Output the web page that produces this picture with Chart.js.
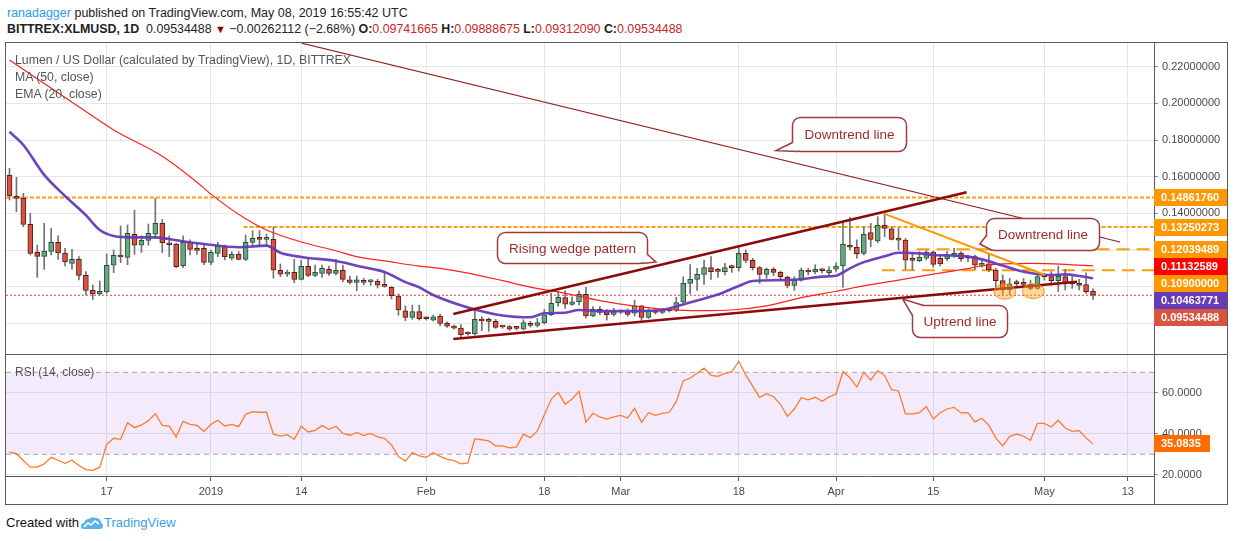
<!DOCTYPE html>
<html>
<head>
<meta charset="utf-8">
<script src="https://cdn.jsdelivr.net/npm/chart.js@4.4.1/dist/chart.umd.min.js"></script>
<style>
  body { margin:0; background:#fff; width:1234px; height:541px; overflow:hidden;
         font-family:"Liberation Sans", Arial, sans-serif; color:#222; }
  .abs { position:absolute; white-space:nowrap; }
  #h1 { left:7px; top:5px; font-size:12.5px; line-height:16px; }
  #h2 { left:7px; top:21px; font-size:12.4px; line-height:16px; }
  #h1 .user { color:#2d9be6; }
  #h2 .r { color:#c62828; }
  #h2 .dn { color:#8b0000; font-size:11px; }
  #frame { left:5px; top:42px; width:1221px; height:461px; border:1px solid #5a5a5a; }
  #sep { left:6px; top:354px; width:1221px; height:1px; background:#5a5a5a; }
  #axisv { left:1154px; top:476px; width:1px; height:28px; background:#5a5a5a; }
  #main { position:absolute; left:6px; top:43px; }
  #rsi { position:absolute; left:6px; top:355px; }
  #legend { left:15px; top:52px; font-size:12.3px; line-height:17px; color:#555; z-index:2; }
  #rsiLegend { left:15px; top:364px; font-size:12px; line-height:16px; color:#555; z-index:2; }
  #foot { left:6px; top:515px; font-size:13px; line-height:16px; color:#111; }
  #foot .tv { color:#3ca0e6; }
  #foot svg { vertical-align:-3px; margin:0 1px 0 2px; }
</style>
</head>
<body>
<div id="h1" class="abs"><span class="user">ranadagger</span> published on TradingView.com, May 08, 2019 16:55:42 UTC</div>
<div id="h2" class="abs"></div>
<div id="frame" class="abs"></div>
<canvas id="main" width="1221" height="311"></canvas>
<div id="sep" class="abs"></div>
<canvas id="rsi" width="1221" height="149"></canvas>
<div id="axisv" class="abs"></div>
<div id="legend" class="abs">Lumen / US Dollar (calculated by TradingView), 1D, BITTREX<br>MA (50, close)<br>EMA (20, close)</div>
<div id="rsiLegend" class="abs">RSI (14, close)</div>
<div id="foot" class="abs">Created with<svg width="22" height="14" viewBox="0 0 22 14"><path d="M2 13 Q0 13 0 10 Q0 7 3 7 Q4 3 8 3 Q11 0 15 2 Q19 2 20 6 Q22 8 22 10 Q22 13 19 13 Z" fill="#56b4e9"/><polyline points="3,11 7,7 10,9 14,5 18,8" fill="none" stroke="#fff" stroke-width="1.6"/></svg><span class="tv">TradingView</span></div>

<script>
// day 0 = 17 Dec 2018, first candle = 3 Dec 2018
const START_DAY = -14;

const opens = [
  0.1607,0.1493,0.1482,0.1340,0.1187,0.1165,0.1193,0.1242,0.1184,0.1127,
  0.1149,0.1062,0.0980,0.0960,0.0971,0.1117,0.1173,0.1160,0.1286,0.1226,
  0.1253,0.1286,0.1346,0.1237,0.1231,0.1115,0.1242,0.1206,0.1209,0.1133,
  0.1182,0.1220,0.1155,0.1176,0.1149,0.1242,0.1264,0.1258,0.1258,0.1089,
  0.1069,0.1078,0.1040,0.1111,0.1062,0.1073,0.1095,0.1073,0.1089,0.1038,
  0.1024,0.1033,0.1026,0.1029,0.1009,0.0997,0.0949,0.0869,0.0833,0.0864,
  0.0829,0.0818,0.0840,0.0800,0.0785,0.0774,0.0745,0.0742,0.0822,0.0818,
  0.0811,0.0782,0.0782,0.0774,0.0769,0.0800,0.0789,0.0804,0.0847,0.0913,
  0.0940,0.0904,0.0918,0.0958,0.0840,0.0876,0.0864,0.0849,0.0864,0.0864,
  0.0855,0.0895,0.0833,0.0869,0.0860,0.0869,0.0873,0.0916,0.1018,0.1040,
  0.1067,0.1104,0.1085,0.1082,0.1105,0.1104,0.1182,0.1144,0.1104,0.1067,
  0.1095,0.1078,0.1051,0.1007,0.1036,0.1091,0.1080,0.1088,0.1076,0.1095,
  0.1113,0.1225,0.1215,0.1182,0.1295,0.1250,0.1335,0.1315,0.1256,0.1254,
  0.1155,0.1142,0.1155,0.1189,0.1155,0.1153,0.1171,0.1182,0.1156,0.1164,
  0.1116,0.1125,0.1091,0.1033,0.0982,0.1018,0.1020,0.1013,0.0991,0.1056,
  0.1055,0.1033,0.1055,0.1027,0.1018,0.1011,0.09741665
];
const highs = [
  0.1646,0.1597,0.1509,0.1400,0.1227,0.1346,0.1318,0.1277,0.1209,0.1204,
  0.1164,0.1082,0.1009,0.1031,0.1178,0.1200,0.1331,0.1337,0.1418,0.1277,
  0.1342,0.1482,0.1367,0.1277,0.1237,0.1277,0.1255,0.1231,0.1227,0.1200,
  0.1242,0.1227,0.1191,0.1191,0.1282,0.1306,0.1306,0.1287,0.1327,0.1124,
  0.1091,0.1149,0.1145,0.1149,0.1118,0.1118,0.1113,0.1149,0.1118,0.1058,
  0.1058,0.1046,0.1040,0.1040,0.1076,0.1000,0.0960,0.0895,0.0900,0.0900,
  0.0836,0.0845,0.0851,0.0809,0.0791,0.0794,0.0754,0.0882,0.0836,0.0829,
  0.0822,0.0787,0.0789,0.0782,0.0820,0.0811,0.0827,0.0876,0.0964,0.0975,
  0.0978,0.0945,0.0976,0.0996,0.0891,0.0891,0.0876,0.0882,0.0873,0.0878,
  0.0927,0.0898,0.0880,0.0878,0.0882,0.0880,0.0942,0.1054,0.1120,0.1100,
  0.1145,0.1164,0.1100,0.1127,0.1118,0.1218,0.1200,0.1155,0.1110,0.1102,
  0.1104,0.1085,0.1058,0.1055,0.1102,0.1100,0.1120,0.1100,0.1110,0.1130,
  0.1355,0.1378,0.1255,0.1327,0.1345,0.1382,0.1400,0.1327,0.1318,0.1264,
  0.1178,0.1191,0.1200,0.1195,0.1167,0.1191,0.1209,0.1191,0.1173,0.1173,
  0.1145,0.1178,0.1100,0.1064,0.1045,0.1036,0.1045,0.1036,0.1064,0.1073,
  0.1082,0.1113,0.1095,0.1055,0.1040,0.1076,0.09888675
];
const lows = [
  0.1473,0.1409,0.1327,0.1173,0.1051,0.1095,0.1173,0.1149,0.1113,0.1095,
  0.1037,0.0955,0.0931,0.0955,0.0964,0.1077,0.1131,0.1120,0.1176,0.1187,
  0.1226,0.1264,0.1186,0.1164,0.1104,0.1104,0.1173,0.1176,0.1120,0.1120,
  0.1164,0.1146,0.1146,0.1146,0.1142,0.1215,0.1218,0.1218,0.1046,0.1055,
  0.1055,0.1022,0.1037,0.1055,0.1055,0.1051,0.1062,0.1064,0.1027,0.1015,
  0.0978,0.1009,0.1007,0.0993,0.0997,0.0933,0.0844,0.0815,0.0822,0.0818,
  0.0818,0.0814,0.0787,0.0778,0.0769,0.0724,0.0736,0.0736,0.0760,0.0756,
  0.0773,0.0773,0.0762,0.0764,0.0764,0.0780,0.0780,0.0796,0.0842,0.0893,
  0.0882,0.0898,0.0900,0.0829,0.0836,0.0847,0.0818,0.0840,0.0853,0.0838,
  0.0840,0.0816,0.0827,0.0851,0.0853,0.0862,0.0864,0.0909,0.0960,0.0980,
  0.1013,0.1040,0.1050,0.1064,0.1078,0.1085,0.1130,0.1090,0.1018,0.1045,
  0.1060,0.1040,0.0993,0.0980,0.1030,0.1064,0.1070,0.1075,0.1060,0.1080,
  0.0996,0.1200,0.1155,0.1173,0.1218,0.1240,0.1273,0.1255,0.1200,0.1095,
  0.1091,0.1136,0.1145,0.1106,0.1113,0.1142,0.1160,0.1138,0.1136,0.1091,
  0.1106,0.1082,0.0982,0.0955,0.0955,0.1000,0.1000,0.0982,0.0985,0.1036,
  0.1009,0.0973,0.0982,0.0991,0.0982,0.0964,0.0931209
];
const closes = [
  0.1495,0.1482,0.1340,0.1182,0.1165,0.1193,0.1242,0.1184,0.1135,0.1149,
  0.1062,0.0980,0.0960,0.0975,0.1117,0.1171,0.1162,0.1291,0.1226,0.1253,
  0.1291,0.1346,0.1240,0.1229,0.1109,0.1242,0.1204,0.1198,0.1133,0.1187,
  0.1222,0.1162,0.1176,0.1149,0.1242,0.1264,0.1258,0.1260,0.1091,0.1069,
  0.1078,0.1040,0.1111,0.1062,0.1078,0.1100,0.1073,0.1089,0.1040,0.1024,
  0.1038,0.1024,0.1028,0.1009,0.1002,0.0951,0.0873,0.0833,0.0864,0.0826,
  0.0825,0.0836,0.0800,0.0785,0.0774,0.0738,0.0742,0.0822,0.0813,0.0811,
  0.0778,0.0780,0.0769,0.0773,0.0804,0.0789,0.0804,0.0847,0.0909,0.0942,
  0.0905,0.0918,0.0958,0.0840,0.0876,0.0860,0.0847,0.0864,0.0862,0.0849,
  0.0895,0.0833,0.0869,0.0860,0.0873,0.0873,0.0913,0.1018,0.1040,0.1067,
  0.1104,0.1082,0.1084,0.1104,0.1104,0.1182,0.1144,0.1104,0.1067,0.1095,
  0.1078,0.1055,0.1007,0.1036,0.1091,0.1080,0.1095,0.1087,0.1091,0.1113,
  0.1231,0.1215,0.1180,0.1285,0.1258,0.1335,0.1318,0.1258,0.1254,0.1145,
  0.1144,0.1162,0.1189,0.1122,0.1124,0.1169,0.1180,0.1153,0.1155,0.1118,
  0.1125,0.1091,0.1033,0.0982,0.1016,0.1017,0.1013,0.0991,0.1055,0.1055,
  0.1033,0.1056,0.1024,0.1015,0.1007,0.0973,0.09534488
];
const rsiValues = [
  31.0,30.3,27.0,23.7,23.7,25.3,28.5,27.1,25.6,27.1,
  24.5,22.5,22.2,23.7,34.9,37.8,37.3,45.4,43.0,44.3,
  46.4,49.8,44.1,43.7,38.5,46.1,44.6,44.1,41.2,44.6,
  46.6,43.8,44.6,43.5,49.5,50.8,50.5,50.5,39.8,38.9,
  39.6,37.3,43.7,40.9,41.7,44.0,42.2,43.7,40.2,39.3,
  40.7,39.1,40.2,38.5,37.8,34.6,28.9,26.7,30.8,29.2,
  28.5,30.8,29.0,27.6,26.9,25.3,25.8,37.6,37.1,36.5,
  34.1,34.1,33.1,33.6,39.8,38.1,41.4,49.2,56.8,60.2,
  54.4,57.0,60.7,45.6,50.0,48.2,47.2,48.2,49.0,47.7,
  52.4,45.6,50.3,49.0,50.0,50.5,55.7,65.8,67.2,69.5,
  72.0,68.5,68.0,69.5,70.2,75.4,68.7,63.3,57.8,59.6,
  58.1,54.4,48.5,52.1,57.6,56.6,57.8,55.9,58.0,59.4,
  70.3,67.4,62.8,70.0,66.3,70.7,68.4,61.5,60.9,49.7,
  49.7,50.3,53.3,47.2,50.3,52.1,52.9,50.2,50.3,45.8,
  47.6,44.1,38.0,34.1,38.8,39.8,38.9,36.8,45.1,45.1,
  43.3,46.6,42.8,41.2,41.5,38.0,35.0835
];

// MA(50) and EMA(20) read at sample days
const maDays   = [-14,-3,1,8,13,15,20,23,28,33,36,40,45,48,52,57,61,66,71,76,81,85,90,95,100,105,109,114,119,124,126,129,133,138,142];
const maValues = [0.2237,0.1955,0.1855,0.1712,0.1570,0.1505,0.1370,0.1309,0.1244,0.1196,0.1164,0.1141,0.1112,0.1100,0.1074,0.1033,0.0998,0.0964,0.0924,0.0894,0.0875,0.0869,0.0873,0.0895,0.0940,0.0975,0.1004,0.1036,0.1069,0.1099,0.1113,0.1124,0.1127,0.1122,0.11132589];
const emaDays   = [-14,-12,-9,-6,-3,-1,1,4,7,10,14,19,23,25,28,33,37,40,43,45,47,52,57,61,63,66,68,71,76,80,82,85,88,91,93,97,100,103,105,107,109,112,114,117,119,121,124,126,129,131,133,136,138,140,142];
const emaValues = [0.1845,0.1773,0.1610,0.1495,0.1390,0.1309,0.1277,0.1269,0.1269,0.1253,0.1233,0.1215,0.1224,0.1185,0.1162,0.1140,0.1106,0.1080,0.1025,0.0996,0.0955,0.0887,0.0843,0.0833,0.0855,0.0858,0.0873,0.0867,0.0867,0.0873,0.0892,0.0925,0.0957,0.1004,0.1031,0.1036,0.1041,0.1055,0.1060,0.1100,0.1134,0.1166,0.1185,0.1182,0.1173,0.1171,0.1164,0.1149,0.1115,0.1091,0.1075,0.1064,0.1067,0.1058,0.10463771];

// axes
const tickDays  = [0, 15, 28, 46, 63, 74, 91, 105, 119, 135, 147];
const tickNames = ['17', '2019', '14', 'Feb', '18', 'Mar', '18', 'Apr', '15', 'May', '13'];
const priceTicks = [0.08, 0.10, 0.12, 0.14, 0.16, 0.18, 0.20, 0.22];
const rsiTicks = [20, 40, 60];
const rsiBands = [70, 30];

// drawn levels and lines
const levels     = [0.1486176, 0.13250273, 0.12039489, 0.109];
const levelStart = [-14.5, 19.7, 116.6, 111.6];
const downDays = [28.1, 145.9],  downPrices = [0.2328, 0.1244];
const wedgeTopDays = [49.9, 123.8], wedgeTopPrices = [0.0851, 0.1515];
const wedgeLowDays = [49.9, 139.7], wedgeLowPrices = [0.0715, 0.1027];
const orangeDays = [111.8, 135.1], orangePrices = [0.1400, 0.1064];
const circleDays = [129.3, 133.4], circlePrices = [0.0973, 0.0976];

const XMIN = -14.5, XMAX = 150.78;
const YMIN = 0.063288, YMAX = 0.232928;
const RMIN = 19.41, RMAX = 78.44;
const GRID = '#e6e6e6';
const FONT = '"Liberation Sans", Arial, sans-serif';
Chart.defaults.font.family = FONT;

const days = closes.map((c, i) => START_DAY + i);
const up = closes.map((c, i) => c >= opens[i]);
const pts = (xs, ys) => xs.map((x, i) => ({ x: x, y: ys[i] }));
const last = a => a[a.length - 1];

// header line 2
const f8 = v => v.toFixed(8);
document.getElementById('h2').innerHTML =
  '<b>BITTREX:XLMUSD, 1D</b>&nbsp; ' + f8(last(closes)) + ' <span class="dn">&#9660;</span> &minus;0.00262112 (&minus;2.68%) ' +
  '<b>O:</b><span class="r">' + f8(last(opens)) + '</span> <b>H:</b><span class="r">' + f8(last(highs)) +
  '</span> <b>L:</b><span class="r">' + f8(last(lows)) + '</span> <b>C:</b><span class="r">' + f8(last(closes)) + '</span>';

function noPad(s) { s.paddingTop = 0; s.paddingBottom = 0; s.paddingLeft = 0; s.paddingRight = 0; }

const callouts = [
  { text: 'Downtrend line', boxDay: 98.7, boxPrice: 0.19273, w: 114, h: 34, tipDay: 96.36, tipPrice: 0.17418, tail: [[0, 25], [6, 34]] },
  { text: 'Rising wedge pattern', boxDay: 56.2, boxPrice: 0.12983, w: 150, h: 31, tipDay: 79.08, tipPrice: 0.11347, tail: [[150, 22], [145, 31]] },
  { text: 'Downtrend line', boxDay: 126.6, boxPrice: 0.13747, w: 113, h: 32, tipDay: 125.7, tipPrice: 0.12329, tail: [[0, 17], [6, 32]] },
  { text: 'Uptrend line', boxDay: 115.9, boxPrice: 0.09001, w: 95, h: 32, tipDay: 114.6, tipPrice: 0.09328, tail: [[0, 10], [11, 0]] }
];

function drawCallout(ctx, c, xs, ys) {
  const bx = Math.round(xs.getPixelForValue(c.boxDay)) + 0.5;
  const by = Math.round(ys.getPixelForValue(c.boxPrice)) + 0.5;
  const tx = xs.getPixelForValue(c.tipDay), ty = ys.getPixelForValue(c.tipPrice);
  const a = c.tail[0], b = c.tail[1];
  ctx.save();
  ctx.lineWidth = 1.5;
  ctx.strokeStyle = '#a13b3b';
  ctx.fillStyle = '#fff';
  ctx.beginPath();
  ctx.roundRect(bx, by, c.w, c.h, 8);
  ctx.fill();
  ctx.stroke();
  ctx.beginPath();
  ctx.moveTo(bx + a[0], by + a[1]);
  ctx.lineTo(tx, ty);
  ctx.lineTo(bx + b[0], by + b[1]);
  ctx.closePath();
  ctx.fill();
  ctx.beginPath();
  ctx.moveTo(bx + a[0], by + a[1]);
  ctx.lineTo(tx, ty);
  ctx.lineTo(bx + b[0], by + b[1]);
  ctx.stroke();
  ctx.fillStyle = '#9e2a2a';
  ctx.font = '13.5px ' + FONT;
  ctx.textAlign = 'center';
  ctx.textBaseline = 'middle';
  ctx.fillText(c.text, bx + c.w / 2, by + c.h / 2 + 1);
  ctx.restore();
}

function drawTags(chart, tags, h) {
  const ctx = chart.ctx, y = chart.scales.y, right = chart.chartArea.right;
  const items = tags.map(t => Object.assign({ py: y.getPixelForValue(t.v) }, t)).sort((p, q) => p.py - q.py);
  let prev = -1e9;
  items.forEach(t => { t.cy = Math.max(t.py, prev + h); prev = t.cy; });
  ctx.save();
  ctx.font = 'bold 11px ' + FONT;
  ctx.textBaseline = 'middle';
  items.forEach(t => {
    ctx.fillStyle = t.color;
    ctx.fillRect(right, Math.round(t.cy - h / 2), t.w || (chart.width - right), h);
    ctx.fillStyle = '#fff';
    ctx.fillText(t.label, right + 7, t.cy + 0.5);
  });
  ctx.restore();
}

const mainMarks = {
  id: 'mainMarks',
  afterDatasetsDraw(chart) {
    const ctx = chart.ctx, xs = chart.scales.x, ys = chart.scales.y;
    ctx.save();
    circleDays.forEach((d, i) => {
      ctx.beginPath();
      ctx.ellipse(xs.getPixelForValue(d), ys.getPixelForValue(circlePrices[i]), 11, 7.6, 0, 0, Math.PI * 2);
      ctx.fillStyle = 'rgba(255,166,30,0.45)';
      ctx.fill();
      ctx.strokeStyle = 'rgba(225,140,0,0.75)';
      ctx.lineWidth = 1;
      ctx.stroke();
    });
    ctx.restore();
    callouts.forEach(c => drawCallout(ctx, c, xs, ys));
  },
  afterDraw(chart) {
    const orange = '#ff9800';
    drawTags(chart, [
      { v: levels[0], label: f8(levels[0]), color: orange },
      { v: levels[1], label: f8(levels[1]), color: orange },
      { v: levels[2], label: f8(levels[2]), color: orange },
      { v: last(maValues), label: f8(last(maValues)), color: '#ff0000' },
      { v: levels[3], label: f8(levels[3]), color: orange },
      { v: last(emaValues), label: f8(last(emaValues)), color: '#673ab7' },
      { v: last(closes), label: f8(last(closes)), color: '#d9533f' }
    ], 17);
  }
};

const lineDs = (data, color, width, order, extra) => Object.assign({
  type: 'line', data: data, borderColor: color, borderWidth: width, pointRadius: 0, fill: false, order: order
}, extra || {});

const levelDs = levels.map((v, i) => lineDs(
  [{ x: levelStart[i], y: v }, { x: XMAX, y: v }], 'rgba(255,152,0,0.95)', 2, 12,
  { borderDash: i < 2 ? [4, 2] : [13, 7] }));

new Chart(document.getElementById('main'), {
  type: 'bar',
  data: {
    datasets: [
      { label: 'wick', data: days.map((d, i) => ({ x: d, y: [lows[i], highs[i]] })),
        backgroundColor: '#737375', barThickness: 1, grouped: false, order: 10 },
      { label: 'body', data: days.map((d, i) => ({ x: d, y: [opens[i], closes[i]] })),
        backgroundColor: up.map(u => u ? '#6ba583' : '#d75442'),
        borderColor: up.map(u => u ? '#225437' : '#5b1a13'),
        borderWidth: 1, borderSkipped: false, barThickness: 5, minBarLength: 2, grouped: false, order: 9 },
      ...levelDs,
      lineDs([{ x: XMIN, y: last(closes) }, { x: XMAX, y: last(closes) }], '#e53935', 1, 11, { borderDash: [2, 2] }),
      lineDs(pts(maDays, maValues), '#ff2020', 1.2, 8, { cubicInterpolationMode: 'monotone' }),
      lineDs(pts(emaDays, emaValues), 'rgba(103,58,183,0.95)', 2.6, 7, { cubicInterpolationMode: 'monotone' }),
      lineDs(pts(downDays, downPrices), '#8e1c1c', 1.2, 5),
      lineDs(pts(wedgeTopDays, wedgeTopPrices), '#8b0a0a', 2.5, 5),
      lineDs(pts(wedgeLowDays, wedgeLowPrices), '#8b0a0a', 2.5, 5),
      lineDs(pts(orangeDays, orangePrices), '#ff9800', 2, 4)
    ]
  },
  options: {
    responsive: false, animation: false, events: [],
    layout: { padding: 0, autoPadding: false },
    plugins: { legend: { display: false }, tooltip: { enabled: false } },
    scales: {
      x: {
        type: 'linear', min: XMIN, max: XMAX, offset: false,
        afterBuildTicks: s => { s.ticks = tickDays.map(v => ({ value: v })); },
        ticks: { display: false },
        grid: { color: GRID, drawTicks: false, offset: false },
        border: { display: false },
        afterFit: s => { s.height = 0; noPad(s); }
      },
      y: {
        type: 'linear', position: 'right', min: YMIN, max: YMAX,
        afterBuildTicks: s => { s.ticks = priceTicks.map(v => ({ value: v })); },
        ticks: { callback: v => v.toFixed(8), color: '#4a4a4a', font: { size: 11 }, padding: 4 },
        grid: { color: GRID, tickColor: '#888', tickLength: 4 },
        border: { color: '#5a5a5a' },
        afterFit: s => { s.width = 73; noPad(s); }
      }
    }
  },
  plugins: [mainMarks]
});

const rsiMarks = {
  id: 'rsiMarks',
  afterDraw(chart) {
    drawTags(chart, [{ v: last(rsiValues), label: last(rsiValues).toFixed(4), color: '#ff6d00', w: 56 }], 17);
  }
};

new Chart(document.getElementById('rsi'), {
  type: 'line',
  data: {
    datasets: [
      lineDs(days.map((d, i) => ({ x: d, y: rsiValues[i] })), '#ff7b2e', 1.3, 1),
      lineDs([{ x: XMIN, y: rsiBands[0] }, { x: XMAX, y: rsiBands[0] }], '#ada3b8', 1, 3, { borderDash: [5, 4] }),
      lineDs([{ x: XMIN, y: rsiBands[1] }, { x: XMAX, y: rsiBands[1] }], '#ada3b8', 1, 2,
        { borderDash: [5, 4], fill: '-1', backgroundColor: 'rgba(150,60,230,0.11)' })
    ]
  },
  options: {
    responsive: false, animation: false, events: [],
    layout: { padding: 0, autoPadding: false },
    plugins: { legend: { display: false }, tooltip: { enabled: false } },
    scales: {
      x: {
        type: 'linear', min: XMIN, max: XMAX, offset: false,
        afterBuildTicks: s => { s.ticks = tickDays.map(v => ({ value: v })); },
        ticks: { callback: v => tickNames[tickDays.indexOf(v)], autoSkip: false, maxRotation: 0,
                 color: '#4a4a4a', font: { size: 11 }, padding: 4 },
        grid: { color: GRID, tickColor: '#5a5a5a', tickLength: 5 },
        border: { color: '#5a5a5a' },
        afterFit: s => { s.height = 28; noPad(s); }
      },
      y: {
        type: 'linear', position: 'right', min: RMIN, max: RMAX,
        afterBuildTicks: s => { s.ticks = rsiTicks.map(v => ({ value: v })); },
        ticks: { callback: v => v.toFixed(4), color: '#4a4a4a', font: { size: 11 }, padding: 4 },
        grid: { color: GRID, tickColor: '#888', tickLength: 4 },
        border: { color: '#5a5a5a' },
        afterFit: s => { s.width = 73; noPad(s); }
      }
    }
  },
  plugins: [rsiMarks]
});
</script>
</body>
</html>
